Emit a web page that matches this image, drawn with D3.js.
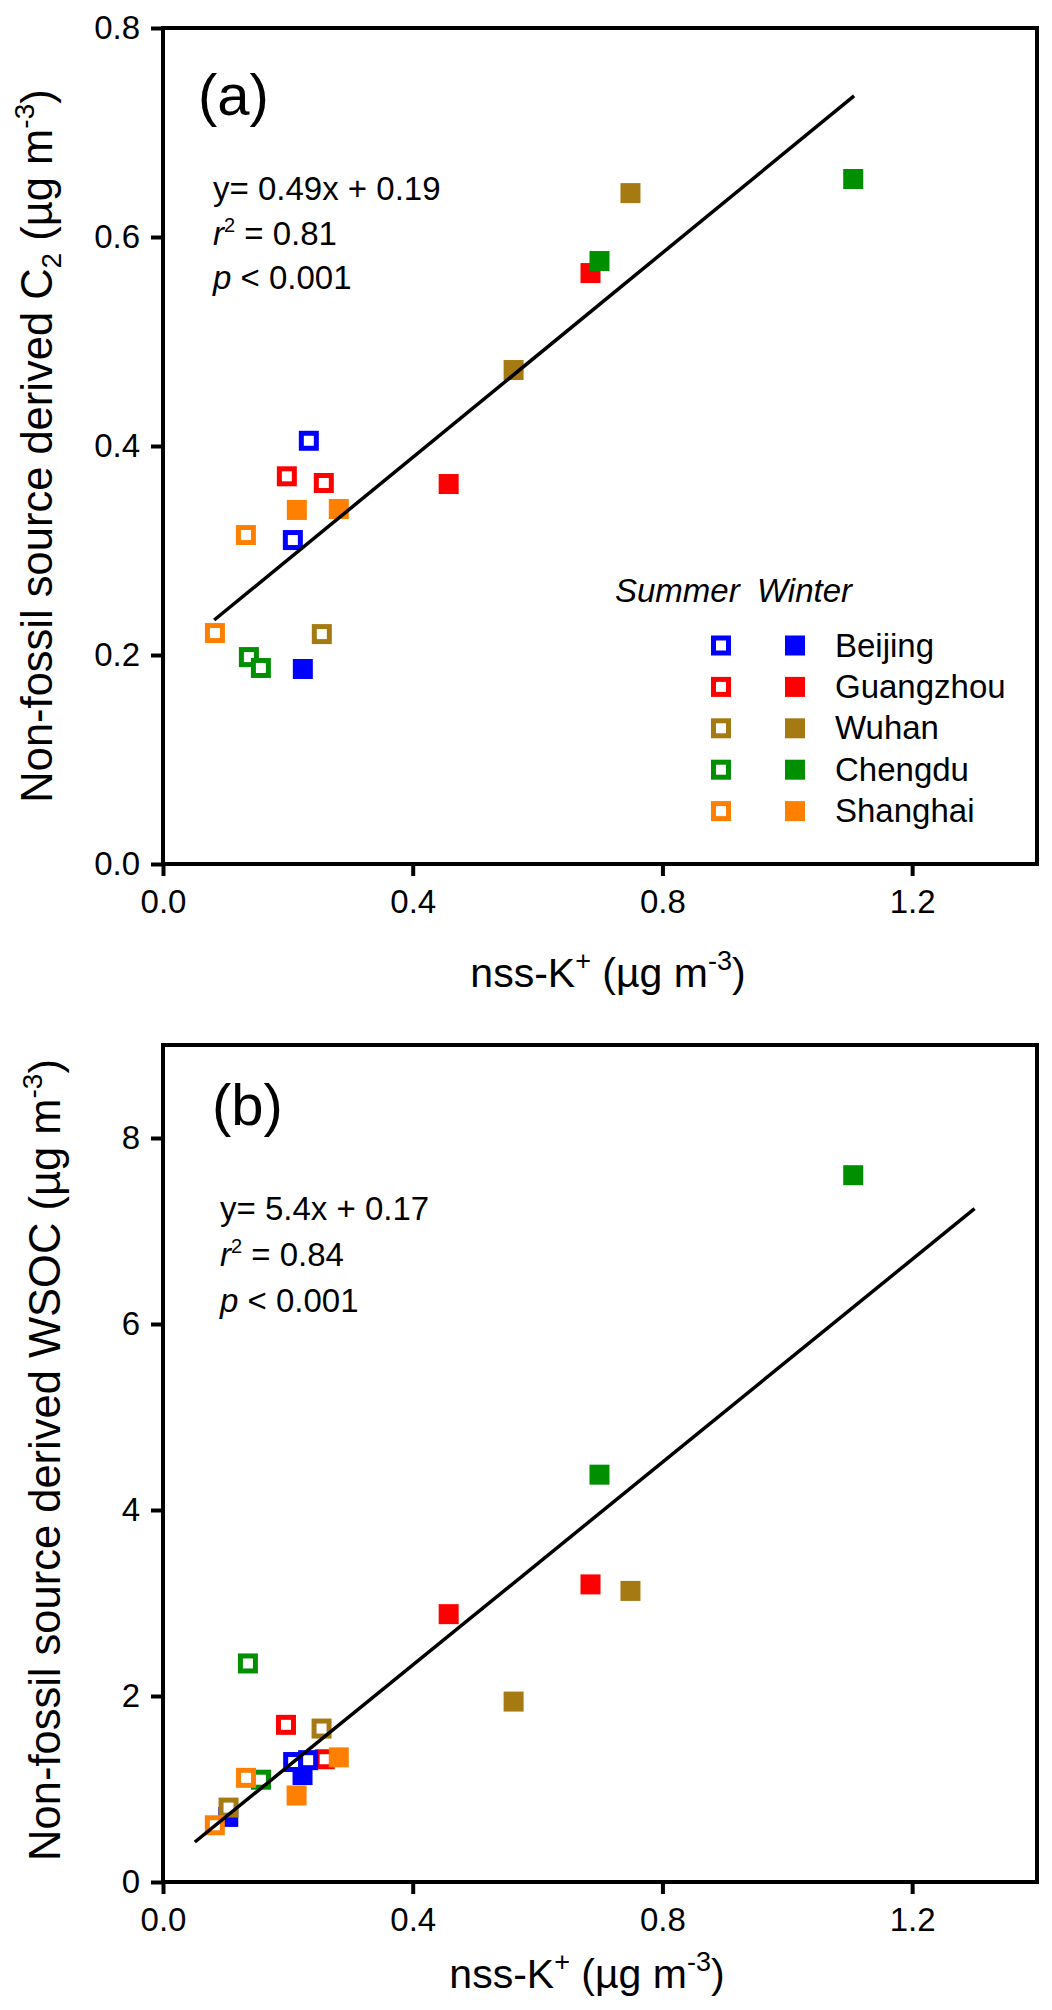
<!DOCTYPE html>
<html>
<head>
<meta charset="utf-8">
<script src="https://cdn.jsdelivr.net/npm/d3@7"></script>
<style>
  html, body { margin: 0; padding: 0; background: #fff; }
  svg { display: block; }
</style>
</head>
<body>
<svg id="chart"></svg>
<script>
(function () {
  'use strict';

  // cities, legend order and colours
  var cities = ['Beijing', 'Guangzhou', 'Wuhan', 'Chengdu', 'Shanghai'];
  var cityColors = ['#0000ff', '#ff0000', '#a57a13', '#008f00', '#ff8000'];
  // painting order seen in the overlaps
  var drawOrder = ['Guangzhou', 'Beijing', 'Wuhan', 'Chengdu', 'Shanghai'];
  var seasons = ['Summer', 'Winter'];

  var xTicks = [0, 0.4, 0.8, 1.2];
  var yTicksA = [0, 0.2, 0.4, 0.6, 0.8];
  var yTicksB = [0, 2, 4, 6, 8];

  // (a) non-fossil C2 vs nss-K+  [city, nssK, value]
  var c2Summer = [
    ['Beijing', 0.2336, 0.405], ['Beijing', 0.208, 0.310],
    ['Guangzhou', 0.1984, 0.371], ['Guangzhou', 0.2576, 0.3646],
    ['Wuhan', 0.2544, 0.220],
    ['Chengdu', 0.1376, 0.198], ['Chengdu', 0.1568, 0.1876],
    ['Shanghai', 0.1328, 0.3148], ['Shanghai', 0.0832, 0.221]
  ];
  var c2Winter = [
    ['Beijing', 0.224, 0.1866],
    ['Guangzhou', 0.4576, 0.3636], ['Guangzhou', 0.6848, 0.5655],
    ['Wuhan', 0.5616, 0.4727], ['Wuhan', 0.7488, 0.642],
    ['Chengdu', 0.6992, 0.577], ['Chengdu', 1.1056, 0.6555],
    ['Shanghai', 0.2144, 0.3388], ['Shanghai', 0.2816, 0.3397]
  ];
  var c2Fit = [[0.082, 0.2335], [1.107, 0.735]];
  var c2Stats = ['y= 0.49x + 0.19', '0.81', '0.001'];

  // (b) non-fossil WSOC vs nss-K+
  var wsocSummer = [
    ['Beijing', 0.2085, 1.29], ['Beijing', 0.2325, 1.31],
    ['Guangzhou', 0.197, 1.69], ['Guangzhou', 0.259, 1.32],
    ['Wuhan', 0.254, 1.65], ['Wuhan', 0.105, 0.80],
    ['Chengdu', 0.136, 2.35], ['Chengdu', 0.157, 1.10],
    ['Shanghai', 0.133, 1.12], ['Shanghai', 0.083, 0.61]
  ];
  var wsocWinter = [
    ['Beijing', 0.2235, 1.15], ['Beijing', 0.1045, 0.70],
    ['Guangzhou', 0.4576, 2.88], ['Guangzhou', 0.6848, 3.20],
    ['Wuhan', 0.5616, 1.94], ['Wuhan', 0.7488, 3.13],
    ['Chengdu', 0.6992, 4.38], ['Chengdu', 1.1056, 7.60],
    ['Shanghai', 0.214, 0.93], ['Shanghai', 0.2816, 1.34]
  ];
  var wsocFit = [[0.051, 0.43], [1.300, 7.24]];
  var wsocStats = ['y= 5.4x + 0.17', '0.84', '0.001'];

  var FONT = 'Arial, "Liberation Sans", Helvetica, sans-serif';
  var width = 1052, height = 2010;
  var left = 163, right = 1037;

  var color = d3.scaleOrdinal().domain(cities).range(cityColors);

  var svg = d3.select('#chart')
    .attr('width', width)
    .attr('height', height)
    .attr('font-family', FONT);

  function panel(cfg) {
    var g = svg.append('g');
    var x = d3.scaleLinear().domain([0, 1.4]).range([left, right]);
    var y = d3.scaleLinear().domain(cfg.yDomain).range([cfg.bottom, cfg.top]);

    // x axis
    g.append('g')
      .attr('transform', 'translate(0,' + cfg.bottom + ')')
      .call(d3.axisBottom(x).tickValues(xTicks).tickFormat(d3.format('.1f'))
        .tickSize(12).tickPadding(14))
      .call(function (a) {
        a.attr('font-size', 33).attr('font-family', FONT);
        a.select('.domain').remove();
        a.selectAll('line').attr('stroke-width', 4);
      });

    // y axis
    g.append('g')
      .attr('transform', 'translate(' + left + ',0)')
      .call(d3.axisLeft(y).tickValues(cfg.yTicks).tickFormat(d3.format(cfg.yFormat))
        .tickSize(12).tickPadding(11))
      .call(function (a) {
        a.attr('font-size', 33).attr('font-family', FONT);
        a.select('.domain').remove();
        a.selectAll('line').attr('stroke-width', 4);
      });

    // frame
    g.append('rect')
      .attr('x', left).attr('y', cfg.top)
      .attr('width', right - left).attr('height', cfg.bottom - cfg.top)
      .attr('fill', 'none').attr('stroke', '#000').attr('stroke-width', 4);

    // points, city by city, winter (filled) under summer (open)
    var pts = g.append('g');
    drawOrder.forEach(function (city) {
      cfg.winter.filter(function (d) { return d[0] === city; }).forEach(function (d) {
        pts.append('rect')
          .attr('x', x(d[1]) - 10).attr('y', y(d[2]) - 10)
          .attr('width', 20).attr('height', 20)
          .attr('fill', color(city));
      });
      cfg.summer.filter(function (d) { return d[0] === city; }).forEach(function (d) {
        pts.append('rect')
          .attr('x', x(d[1]) - 7.5).attr('y', y(d[2]) - 7.5)
          .attr('width', 15).attr('height', 15)
          .attr('fill', '#fff')
          .attr('stroke', color(city)).attr('stroke-width', 5);
      });
    });

    // regression line
    g.append('path')
      .datum(cfg.fit)
      .attr('d', d3.line().x(function (d) { return x(d[0]); }).y(function (d) { return y(d[1]); }))
      .attr('fill', 'none').attr('stroke', '#000').attr('stroke-width', 3.5);

    // panel letter
    g.append('text')
      .attr('x', cfg.letterX).attr('y', cfg.top + cfg.letterDy)
      .attr('font-size', 58)
      .text(cfg.letter);

    // equation block
    var eq = g.append('g').attr('font-size', 33);
    eq.append('text').attr('x', cfg.eqX).attr('y', cfg.eqY[0]).text(cfg.stats[0]);
    var r2 = eq.append('text').attr('x', cfg.eqX).attr('y', cfg.eqY[1]);
    r2.append('tspan').attr('font-style', 'italic').text('r');
    r2.append('tspan').attr('font-size', 20).attr('dy', -13).text('2');
    r2.append('tspan').attr('dy', 13).text(' = ' + cfg.stats[1]);
    var pv = eq.append('text').attr('x', cfg.eqX).attr('y', cfg.eqY[2]);
    pv.append('tspan').attr('font-style', 'italic').text('p');
    pv.append('tspan').text(' < ' + cfg.stats[2]);

    // x title
    var xt = g.append('text')
      .attr('x', cfg.xTitleX).attr('y', cfg.bottom + cfg.xTitleDy)
      .attr('text-anchor', 'middle').attr('font-size', 41);
    xt.append('tspan').text('nss-K');
    xt.append('tspan').attr('font-size', 27).attr('dy', -17).text('+');
    xt.append('tspan').attr('dy', 17).text(' (\u00b5g m');
    xt.append('tspan').attr('font-size', 27).attr('dy', -17).text('-3');
    xt.append('tspan').attr('dy', 17).text(')');

    // y title
    var yt = g.append('text')
      .attr('transform', 'translate(' + cfg.yTitleX + ',' + cfg.yTitleY + ') rotate(-90)')
      .attr('text-anchor', 'middle').attr('font-size', 43.5);
    yt.append('tspan').text(cfg.yName);
    if (cfg.ySub) {
      yt.append('tspan').attr('font-size', 28).attr('dy', 9).text(cfg.ySub);
      yt.append('tspan').attr('dy', -9).text(' (\u00b5g m');
    } else {
      yt.append('tspan').text(' (\u00b5g m');
    }
    yt.append('tspan').attr('font-size', 28).attr('dy', -18).text('-3');
    yt.append('tspan').attr('dy', 18).text(')');

    return { g: g, x: x, y: y };
  }

  var pa = panel({
    top: 28, bottom: 864, yDomain: [0, 0.8], yTicks: yTicksA, yFormat: '.1f',
    summer: c2Summer, winter: c2Winter, fit: c2Fit, stats: c2Stats,
    letter: '(a)', letterX: 198, letterDy: 87,
    eqX: 213, eqY: [200, 245, 289],
    xTitleX: 608, xTitleDy: 123, yTitleX: 52, yTitleY: 446,
    yName: 'Non-fossil source derived C', ySub: '2'
  });

  panel({
    top: 1045, bottom: 1882, yDomain: [0, 9], yTicks: yTicksB, yFormat: 'd',
    summer: wsocSummer, winter: wsocWinter, fit: wsocFit, stats: wsocStats,
    letter: '(b)', letterX: 212, letterDy: 80,
    eqX: 220, eqY: [1220, 1266, 1312],
    xTitleX: 587, xTitleDy: 106, yTitleX: 60, yTitleY: 1460,
    yName: 'Non-fossil source derived WSOC', ySub: null
  });

  // legend in panel (a)
  var lg = pa.g.append('g').attr('font-size', 33);
  var headX = [615, 757];
  lg.selectAll('text.head')
    .data(seasons)
    .enter().append('text')
    .attr('class', 'head')
    .attr('x', function (d, i) { return headX[i]; })
    .attr('y', 602)
    .attr('font-style', 'italic')
    .text(function (d) { return d; });

  var rows = lg.selectAll('g.row')
    .data(cities)
    .enter().append('g')
    .attr('class', 'row')
    .attr('transform', function (d, i) { return 'translate(0,' + (645.5 + i * 41.4) + ')'; });
  rows.append('rect')
    .attr('x', 721 - 7.5).attr('y', -7.5).attr('width', 15).attr('height', 15)
    .attr('fill', '#fff').attr('stroke', function (d) { return color(d); }).attr('stroke-width', 5);
  rows.append('rect')
    .attr('x', 795 - 10).attr('y', -10).attr('width', 20).attr('height', 20)
    .attr('fill', function (d) { return color(d); });
  rows.append('text')
    .attr('x', 835).attr('y', 11)
    .text(function (d) { return d; });
}());
</script>
</body>
</html>
